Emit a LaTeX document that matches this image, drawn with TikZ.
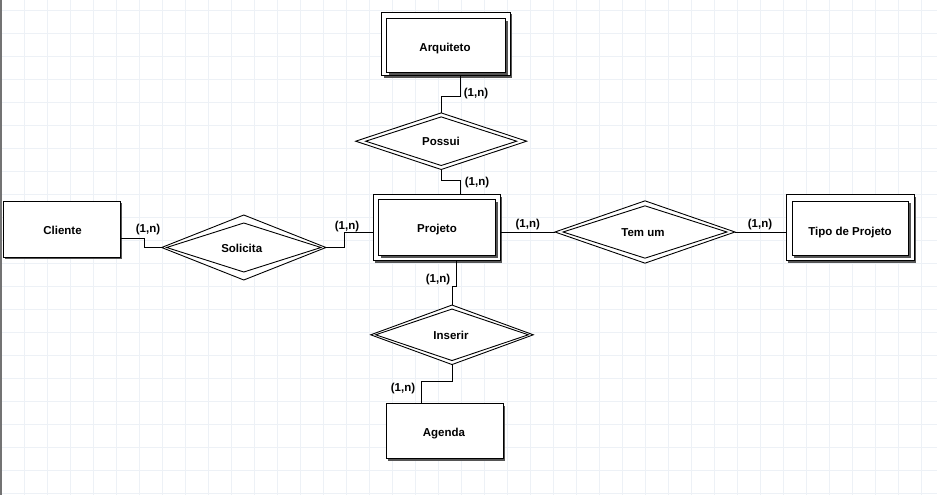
\documentclass[tikz,border=0pt]{standalone}
\usepackage{fontspec}
\setmainfont{Liberation Sans}
\usetikzlibrary{calc,shadows}
\definecolor{gridc}{RGB}{237,241,246}
\definecolor{shadowc}{RGB}{85,85,85}
\tikzset{
  ebox/.style={draw=black, fill=white, line width=1pt, inner sep=0pt,
    drop shadow={shadow xshift=2.2pt, shadow yshift=-2.2pt, fill=shadowc, opacity=1}},
  dianode/.style={inner sep=0pt, outer sep=0pt},
  dline/.style={draw=black, line width=0.9pt, line join=miter},
  conn/.style={draw=black, line width=1pt},
  txt/.style={font=\bfseries\fontsize{11.5}{13}\selectfont, text height=8.2pt, text depth=0pt, inner sep=0pt},
  gridline/.style={draw=gridc, line width=1pt}
}
\newcommand{\erdia}[6]{%
  \node[dianode, minimum width=#3pt, minimum height=#4pt] (#1) at (#2) {};
  \draw[dline, fill=white] (#1.north) -- (#1.east) -- (#1.south) -- (#1.west) -- cycle;
  \draw[dline] ($(#1.north)+(0,#6)$) -- ($(#1.east)+(-#5,0)$) -- ($(#1.south)+(0,-#6)$) -- ($(#1.west)+(#5,0)$) -- cycle;
}
\begin{document}
\begin{tikzpicture}[x=1pt,y=-1pt]
\useasboundingbox (0,0) rectangle (937,495);
\fill[white] (0,0) rectangle (937,495);
% grid
\foreach \i in {1,...,40} \draw[gridline] (1.3+23*\i,0) -- (1.3+23*\i,495);
\foreach \j in {0,...,21} \draw[gridline] (0,10.3+23*\j) -- (937,10.3+23*\j);
\draw[line width=1.5pt, draw=black!55] (0.75,0) -- (0.75,495);

% entities
\node[ebox, minimum width=128.3pt, minimum height=63.7pt] (arq) at (445.85,44.15) {};
\node[ebox, minimum width=119pt, minimum height=54pt] (arqi) at (446,45.5) {};
\node[txt] (tarq) at (445,47.5) {Arquiteto};

\node[ebox, minimum width=127pt, minimum height=66pt] (proj) at (436.5,227.5) {};
\node[ebox, minimum width=117pt, minimum height=56pt] (proji) at (437,227.5) {};
\node[txt] (tproj) at (437,228) {Projeto};

\node[ebox, minimum width=128pt, minimum height=66pt] (tipo) at (850,227.5) {};
\node[ebox, minimum width=116.5pt, minimum height=54.5pt] (tipoi) at (850.25,228.25) {};
\node[txt] (ttipo) at (850,231) {Tipo de Projeto};

\node[ebox, minimum width=117pt, minimum height=56pt] (cli) at (61.5,229) {};
\node[txt] (tcli) at (62.5,230.5) {Cliente};

\node[ebox, minimum width=117pt, minimum height=55pt] (agd) at (444.5,431) {};
\node[txt] (tagd) at (444,432.5) {Agenda};

% relationships
\erdia{pos}{441.2,141.2}{171}{56.6}{10}{4}
\node[txt] (tpos) at (441,141.3) {Possui};
\erdia{sol}{243.8,247.5}{164.3}{65}{5}{8}
\node[txt] (tsol) at (241.7,248) {Solicita};
\erdia{tem}{645,232}{180}{62.3}{8}{5}
\node[txt] (ttem) at (643,232) {Tem um};
\erdia{ins}{452,334.8}{162.6}{59.5}{5}{4}
\node[txt] (tins) at (451,335.3) {Inserir};

% connectors
\coordinate (c1) at (460.7,96.7);
\draw[conn] (arq.south -| c1) -- (c1) -| (pos.north);
\coordinate (c2) at (460.7,180);
\draw[conn] (pos.south) |- (c2) -- (proj.north -| c2);
\coordinate (c3) at (144.3,238.3);
\draw[conn] (cli.east |- c3) -- (c3) |- (sol.west);
\coordinate (c4) at (344.3,232.3);
\draw[conn] (sol.east) -| (c4) -- (proj.west |- c4);
\draw[conn] (proj.east |- tem.west) -- (tem.west);
\draw[conn] (tem.east) -- (tipo.west |- tem.east);
\coordinate (c5) at (456.7,286.7);
\draw[conn] (proj.south -| c5) -- (c5) -| (ins.north);
\coordinate (c6) at (421.7,381);
\draw[conn] (ins.south) |- (c6) -- (agd.north -| c6);

% cardinalities
\node[txt] (k1) at (476,92) {(1,n)};
\node[txt] (k2) at (477,181) {(1,n)};
\node[txt] (k3) at (148,228.5) {(1,n)};
\node[txt] (k4) at (347,225.3) {(1,n)};
\node[txt] (k5) at (527.8,223) {(1,n)};
\node[txt] (k6) at (760,223) {(1,n)};
\node[txt] (k7) at (438,278) {(1,n)};
\node[txt] (k8) at (403,387.3) {(1,n)};
\end{tikzpicture}
\end{document}
